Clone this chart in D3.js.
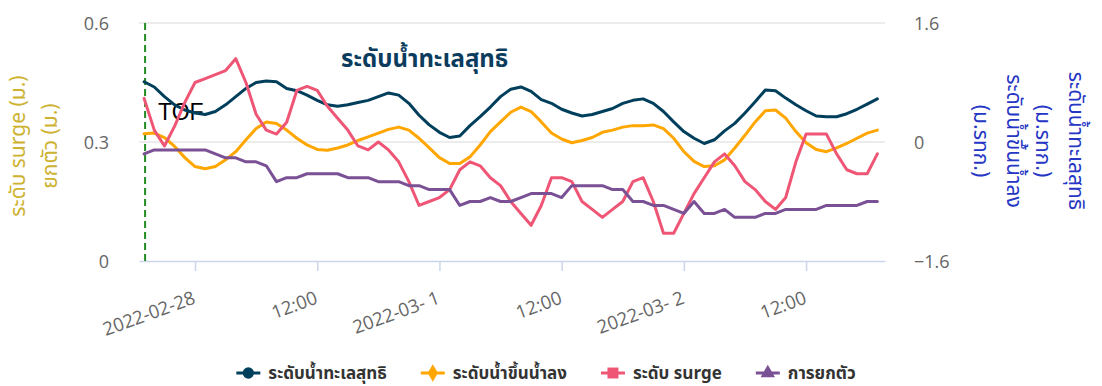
<!DOCTYPE html>
<html>
<head>
<meta charset="utf-8">
<script src="https://cdn.jsdelivr.net/npm/d3@7"></script>
<style>
  html, body { margin: 0; padding: 0; background: #ffffff; }
  svg { display: block; font-family: "Noto Sans Thai", "Kanit", "Open Sans", "Noto Sans", "DejaVu Sans", sans-serif; }
</style>
</head>
<body>
<svg id="chart" width="1102" height="386"></svg>
<script>
// Hourly series starting at the forecast origin (TOF)
const startTime = new Date(2022, 1, 27, 19, 0);

// Net sea level (m MSL) – right axis
const netSeaLevel = [0.81,0.74,0.61,0.50,0.43,0.39,0.37,0.41,0.50,0.61,0.72,0.80,0.82,0.81,0.72,0.69,0.63,0.56,0.50,0.48,
  0.50,0.53,0.56,0.61,0.66,0.63,0.52,0.36,0.23,0.13,0.06,0.08,0.22,0.34,0.47,0.61,0.71,0.74,0.68,0.57,
  0.52,0.44,0.39,0.35,0.37,0.41,0.45,0.52,0.56,0.58,0.52,0.41,0.27,0.14,0.05,-0.02,0.03,0.15,0.25,0.39,
  0.54,0.70,0.69,0.59,0.50,0.42,0.35,0.34,0.34,0.38,0.44,0.51,0.58];

// Astronomical tide (m MSL) – right axis
const tideLevel = [0.11,0.12,0.06,-0.06,-0.21,-0.33,-0.36,-0.33,-0.24,-0.13,0.03,0.18,0.27,0.25,0.16,0.05,-0.04,-0.10,-0.11,-0.08,
  -0.04,0.02,0.07,0.12,0.17,0.20,0.16,0.05,-0.08,-0.21,-0.29,-0.29,-0.20,-0.04,0.14,0.27,0.40,0.47,0.41,0.27,
  0.12,0.04,-0.01,0.02,0.06,0.13,0.16,0.20,0.22,0.22,0.23,0.18,0.05,-0.13,-0.26,-0.33,-0.32,-0.24,-0.08,0.09,
  0.27,0.42,0.43,0.32,0.14,-0.01,-0.10,-0.13,-0.08,-0.02,0.05,0.12,0.16];

// Storm surge (m) – left axis
const surgeLevel = [0.41,0.33,0.29,0.34,0.40,0.45,0.46,0.47,0.48,0.51,0.45,0.37,0.33,0.32,0.35,0.43,0.44,0.43,0.39,0.36,
  0.33,0.29,0.28,0.30,0.28,0.25,0.20,0.14,0.15,0.16,0.18,0.23,0.25,0.24,0.21,0.19,0.15,0.12,0.09,0.14,
  0.21,0.21,0.20,0.15,0.13,0.11,0.13,0.15,0.20,0.21,0.15,0.07,0.07,0.12,0.17,0.21,0.25,0.27,0.24,0.20,
  0.18,0.15,0.13,0.16,0.25,0.32,0.32,0.32,0.27,0.23,0.22,0.22,0.27];

// Wave setup / uplift (m) – left axis
const upliftLevel = [0.27,0.28,0.28,0.28,0.28,0.28,0.28,0.27,0.26,0.26,0.25,0.25,0.24,0.20,0.21,0.21,0.22,0.22,0.22,0.22,
  0.21,0.21,0.21,0.20,0.20,0.20,0.19,0.19,0.18,0.18,0.18,0.14,0.15,0.15,0.16,0.15,0.15,0.16,0.17,0.17,
  0.17,0.16,0.19,0.19,0.19,0.19,0.18,0.18,0.15,0.15,0.14,0.14,0.13,0.12,0.15,0.12,0.12,0.13,0.11,0.11,
  0.11,0.12,0.12,0.13,0.13,0.13,0.13,0.14,0.14,0.14,0.14,0.15,0.15];

const leftTicks = [0, 0.3, 0.6];
const rightTicks = [-1.6, 0, 1.6];
const xTickTimes = [new Date(2022,1,28,0), new Date(2022,1,28,12), new Date(2022,2,1,0),
                    new Date(2022,2,1,12), new Date(2022,2,2,0), new Date(2022,2,2,12)];

const seriesNames = ["ระดับน้ำทะเลสุทธิ", "ระดับน้ำขึ้นน้ำลง", "ระดับ surge", "การยกตัว"];
const seriesColors = ["#003f5c", "#ffa600", "#ef5675", "#7a5195"];
const chartTitle = "ระดับน้ำทะเลสุทธิ";
const leftTitle = ["ระดับ surge (ม.)", "ยกตัว (ม.)"];
const rightTitle1 = ["ระดับน้ำทะเลสุทธิ", "(ม.รทก.)"];
const rightTitle2 = ["ระดับน้ำขึ้นน้ำลง", "(ม.รทก.)"];

const times = netSeaLevel.map((_, i) => d3.timeHour.offset(startTime, i));

const svg = d3.select("#chart");
const plot = { left: 139, right: 885, top: 23, bottom: 261 };

const x = d3.scaleTime()
  .domain([d3.timeMinute.offset(startTime, -30), d3.timeMinute.offset(startTime, 72 * 60 + 45)])
  .range([plot.left, plot.right]);
const yLeft = d3.scaleLinear().domain([0, 0.6]).range([plot.bottom, plot.top]);
const yRight = d3.scaleLinear().domain([-1.6, 1.6]).range([plot.bottom, plot.top]);

// horizontal grid lines
svg.append("g").selectAll("line").data(leftTicks.filter(d => d > 0)).join("line")
  .attr("x1", plot.left).attr("x2", plot.right)
  .attr("y1", d => yLeft(d)).attr("y2", d => yLeft(d))
  .attr("stroke", "#e6e6e6").attr("stroke-width", 1.5);

// left axis labels
const leftAxis = d3.axisLeft(yLeft).tickValues(leftTicks).tickSize(0).tickPadding(0)
  .tickFormat(d => d === 0 ? "0" : d3.format(".1f")(d));
svg.append("g").attr("transform", `translate(${plot.left - 30},0)`).call(leftAxis)
  .call(g => g.select(".domain").remove())
  .selectAll("text").attr("fill", "#666").attr("font-size", 18).attr("dy", "0.35em")
  .style("font-family", "'Open Sans', sans-serif");

// right axis labels
const rightAxis = d3.axisRight(yRight).tickValues(rightTicks).tickSize(0).tickPadding(0)
  .tickFormat(d => d === 0 ? "0" : d3.format(".1f")(d));
svg.append("g").attr("transform", `translate(${plot.right + 29},0)`).call(rightAxis)
  .call(g => g.select(".domain").remove())
  .selectAll("text").attr("fill", "#666").attr("font-size", 18).attr("dy", "0.35em")
  .style("font-family", "'Open Sans', sans-serif");

// bottom axis
const xAxis = d3.axisBottom(x).tickValues(xTickTimes).tickSize(10).tickSizeOuter(0)
  .tickFormat(d => d.getHours() === 0 ? d3.timeFormat("%Y-%m-%e")(d) : d3.timeFormat("%H:%M")(d));
const gx = svg.append("g").attr("transform", `translate(0,${plot.bottom})`).call(xAxis);
gx.select(".domain").attr("stroke", "#ccd6eb").attr("stroke-width", 1.5);
gx.selectAll(".tick line").attr("stroke", "#ccd6eb").attr("stroke-width", 1.5);
gx.selectAll(".tick text")
  .attr("fill", "#666").attr("font-size", 18.5)
  .style("font-family", "'Open Sans', sans-serif")
  .attr("text-anchor", "end")
  .attr("y", 0).attr("dy", 0)
  .attr("transform", "translate(1,42) rotate(-20)");

// TOF marker
svg.append("line")
  .attr("x1", x(startTime) + 1).attr("x2", x(startTime) + 1)
  .attr("y1", plot.top).attr("y2", plot.bottom)
  .attr("stroke", "#228b22").attr("stroke-width", 2).attr("stroke-dasharray", "7,4");
svg.append("text").attr("x", x(startTime) + 14).attr("y", 119.5)
  .attr("font-size", 23).attr("fill", "#000")
  .style("font-family", "'Liberation Sans', Arial, sans-serif")
  .text("TOF");

// series lines
const series = [
  { values: netSeaLevel, scale: yRight },
  { values: tideLevel, scale: yRight },
  { values: surgeLevel, scale: yLeft },
  { values: upliftLevel, scale: yLeft }
];
series.forEach((s, k) => {
  const line = d3.line().x((d, i) => x(times[i])).y(d => s.scale(d));
  svg.append("path").datum(s.values)
    .attr("d", line)
    .attr("fill", "none")
    .attr("stroke", seriesColors[k])
    .attr("stroke-width", 3)
    .attr("stroke-linejoin", "round")
    .attr("stroke-linecap", "round");
});

// chart title
svg.append("text").attr("x", 341).attr("y", 67)
  .attr("font-size", 24).attr("font-weight", "bold").attr("fill", "#0b3c5d")
  .text(chartTitle);

// left axis title (two lines, rotated)
const lt = svg.append("text")
  .attr("transform", "translate(0,146) rotate(-90)")
  .attr("text-anchor", "middle").attr("font-size", 21).attr("fill", "#cdb230");
leftTitle.forEach((t, i) => lt.append("tspan").attr("x", 0).attr("y", 25 + i * 32).text(t));

// right axis titles (rotated clockwise)
function rightTitle(lines, xPos) {
  const t = svg.append("text")
    .attr("transform", `translate(${xPos},141) rotate(90)`)
    .attr("text-anchor", "middle").attr("font-size", 21).attr("fill", "#2536c4");
  lines.forEach((s, i) => t.append("tspan").attr("x", 0).attr("y", i * 33).text(s));
}
rightTitle(rightTitle1, 1069);
rightTitle(rightTitle2, 1007);

// legend
const legend = svg.append("g");
const symbols = [d3.symbolCircle, d3.symbolDiamond, d3.symbolSquare, d3.symbolTriangle];
const symbolSizes = [100, 90, 120, 90];
let cursor = 0;
seriesNames.forEach((name, k) => {
  const g = legend.append("g").attr("transform", `translate(${cursor},0)`);
  g.append("line").attr("x1", 0).attr("x2", 24).attr("y1", 0).attr("y2", 0)
    .attr("stroke", seriesColors[k]).attr("stroke-width", 3);
  g.append("path").attr("transform", "translate(12,0)")
    .attr("d", d3.symbol(symbols[k], symbolSizes[k])()).attr("fill", seriesColors[k]);
  const txt = g.append("text").attr("x", 32).attr("y", 0).attr("dy", "0.35em")
    .attr("font-size", 17).attr("font-weight", "bold").attr("fill", "#333").text(name);
  cursor += 32 + txt.node().getComputedTextLength() + 34;
});
const legendWidth = cursor - 34;
legend.attr("transform", `translate(${546 - legendWidth / 2},373)`);
</script>
</body>
</html>
